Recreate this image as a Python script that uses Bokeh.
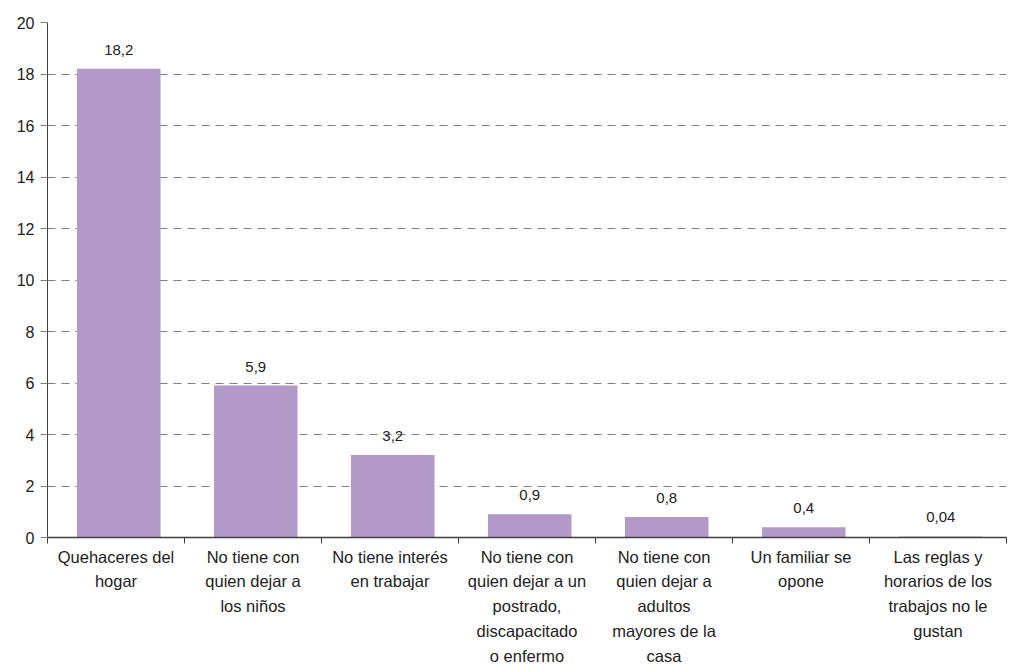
from bokeh.plotting import figure
from bokeh.models import Range1d, FixedTicker, ColumnDataSource, LabelSet
from bokeh.core.properties import value
from bokeh.embed import file_html
from bokeh.resources import INLINE

categories = [
    "Quehaceres del\nhogar",
    "No tiene con\nquien dejar a\nlos niños",
    "No tiene interés\nen trabajar",
    "No tiene con\nquien dejar a un\npostrado,\ndiscapacitado\no enfermo",
    "No tiene con\nquien dejar a\nadultos\nmayores de la\ncasa",
    "Un familiar se\nopone",
    "Las reglas y\nhorarios de los\ntrabajos no le\ngustan",
]
values = [18.2, 5.9, 3.2, 0.9, 0.8, 0.4, 0.04]
value_labels = ["18,2", "5,9", "3,2", "0,9", "0,8", "0,4", "0,04"]
y_ticks = list(range(0, 21, 2))

FONT = "Liberation Sans"
TXT = "#222222"

n = len(categories)
centers = [i + 0.52 for i in range(n)]
src = ColumnDataSource(dict(x=centers, top=values, lab=value_labels))

p = figure(width=1008, height=667, output_backend="svg", toolbar_location=None,
           x_range=Range1d(0, n), y_range=Range1d(0, 20),
           min_border_left=47, min_border_right=2, min_border_top=22, min_border_bottom=10)
p.outline_line_color = None
p.background_fill_color = "white"

p.vbar(x="x", top="top", width=0.61, bottom=0, source=src,
       fill_color="#B399C8", line_color=None)

labels = LabelSet(x="x", y="top", text="lab", source=src, text_align="center",
                  text_baseline="bottom", y_offset=14, text_font=value(FONT),
                  text_font_size=value("15px"), text_color=value(TXT))
p.add_layout(labels)

# x axis
p.xaxis.ticker = FixedTicker(ticks=[i + 0.5 for i in range(n)],
                             minor_ticks=list(range(0, n + 1)))
p.xaxis.major_label_overrides = {i + 0.5: categories[i] for i in range(n)}
p.xaxis.major_tick_out = 0
p.xaxis.major_tick_in = 0
p.xaxis.minor_tick_out = 6
p.xaxis.minor_tick_in = 0
p.xaxis.minor_tick_line_color = "#404040"
p.xaxis.axis_line_color = "#404040"
p.xaxis.axis_line_width = 1.5
p.xaxis.major_label_text_font = FONT
p.xaxis.major_label_text_font_size = "16.5px"
p.xaxis.major_label_text_color = TXT
p.xaxis.major_label_standoff = 4
p.xaxis.major_label_text_line_height = 1.38

# y axis
p.yaxis.ticker = FixedTicker(ticks=y_ticks)
p.yaxis.minor_tick_line_color = None
p.yaxis.major_tick_out = 7
p.yaxis.major_tick_in = 0
p.yaxis.major_tick_line_color = "#808080"
p.yaxis.axis_line_color = "#404040"
p.yaxis.major_label_text_font = FONT
p.yaxis.major_label_text_font_size = "16px"
p.yaxis.major_label_text_color = TXT
p.yaxis.major_label_standoff = 6

p.xgrid.grid_line_color = None
p.ygrid.ticker = FixedTicker(ticks=y_ticks)
p.ygrid.grid_line_color = "#808080"
p.ygrid.grid_line_dash = "8 6"
p.ygrid.grid_line_width = 1

open("out.html", "w").write(file_html(p, INLINE))
